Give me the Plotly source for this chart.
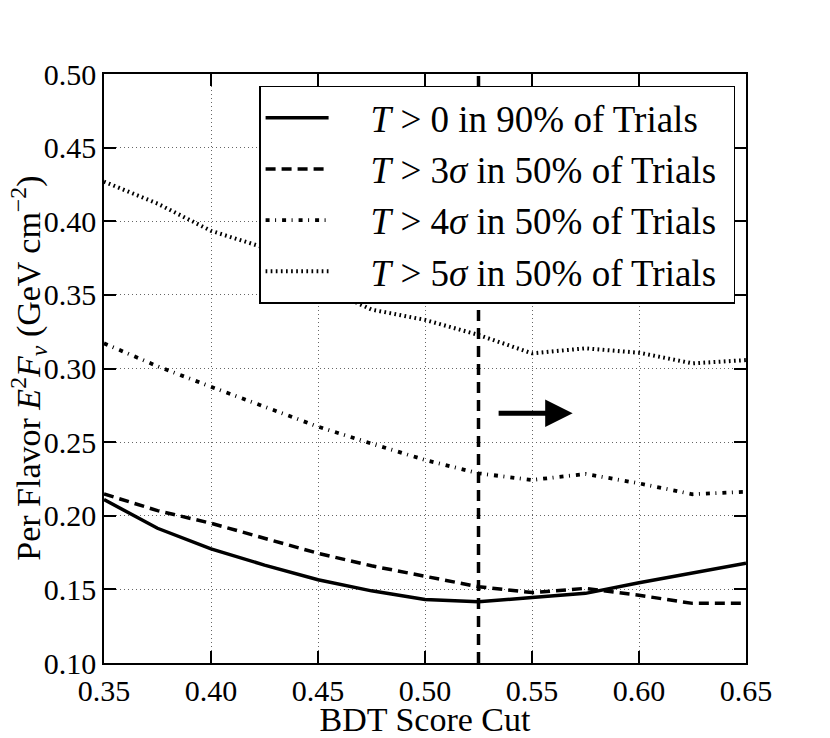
import plotly.graph_objects as go

# ---- data ----
bdt_cut = [0.35, 0.375, 0.40, 0.425, 0.45, 0.475, 0.50, 0.525, 0.55, 0.575, 0.60, 0.625, 0.65]
flux_t0_90 = [0.211, 0.1915, 0.1775, 0.1665, 0.1565, 0.149, 0.1432, 0.1416, 0.1445, 0.1473, 0.1545, 0.161, 0.1677]
flux_3sig_50 = [0.2148, 0.2035, 0.1949, 0.1845, 0.1745, 0.166, 0.1586, 0.1518, 0.1478, 0.1507, 0.146, 0.1405, 0.1405]
flux_4sig_50 = [0.3171, 0.3015, 0.2876, 0.274, 0.2605, 0.249, 0.2379, 0.2288, 0.2243, 0.2284, 0.222, 0.2146, 0.2163]
flux_5sig_50 = [0.4269, 0.412, 0.3935, 0.382, 0.357, 0.340, 0.333, 0.3228, 0.3103, 0.3137, 0.3107, 0.3035, 0.3057]

series_labels = [
    "<i>T</i> &gt; 0 in 90% of Trials",
    "<i>T</i> &gt; 3<i>σ</i> in 50% of Trials",
    "<i>T</i> &gt; 4<i>σ</i> in 50% of Trials",
    "<i>T</i> &gt; 5<i>σ</i> in 50% of Trials",
]

x_ticks = [0.35, 0.40, 0.45, 0.50, 0.55, 0.60, 0.65]
y_ticks = [0.10, 0.15, 0.20, 0.25, 0.30, 0.35, 0.40, 0.45, 0.50]
x_tick_labels = ["0.35", "0.40", "0.45", "0.50", "0.55", "0.60", "0.65"]
y_tick_labels = ["0.10", "0.15", "0.20", "0.25", "0.30", "0.35", "0.40", "0.45", "0.50"]

chosen_cut = 0.525
arrow_start = 0.5337
arrow_end = 0.569
arrow_level = 0.2696

FONT = "Liberation Serif"
LEAD = "&nbsp;&nbsp;&nbsp;&nbsp;"
TRAIL = "&nbsp;&#8202;"

styles = [
    dict(width=3.5, dash="solid"),
    dict(width=3.5, dash="10px,6px"),
    dict(width=3.8, dash="4px,5.5px,1px,6px"),
    dict(width=4.0, dash="1.7px,3.4px"),
]
values = [flux_t0_90, flux_3sig_50, flux_4sig_50, flux_5sig_50]

fig = go.Figure()
for label, vals, st in zip(series_labels, values, styles):
    fig.add_trace(go.Scatter(
        x=bdt_cut, y=vals, mode="lines", name=LEAD + label + TRAIL,
        line=dict(color="black", width=st["width"], dash=st["dash"]),
    ))

fig.add_shape(type="line", xref="x", yref="paper", x0=chosen_cut, x1=chosen_cut, y0=0, y1=1,
              line=dict(color="black", width=3.5, dash="11px,7px"), layer="above")

fig.add_annotation(x=arrow_end, y=arrow_level, ax=arrow_start, ay=arrow_level,
                   xref="x", yref="y", axref="x", ayref="y", text="",
                   showarrow=True, arrowhead=2, arrowsize=1.1, arrowwidth=5, arrowcolor="black")

# y-axis title placed as a rotated annotation for exact positioning
fig.add_annotation(text="Per Flavor <i>E</i><sup>2</sup><i>F</i><sub><i>ν</i></sub> (GeV cm<sup>−2</sup>)",
                   xref="paper", yref="paper", x=-0.118, y=0.5, xanchor="center", yanchor="middle",
                   textangle=-90, showarrow=False, font=dict(family=FONT, size=34, color="black"))

axis_common = dict(
    showgrid=True, gridcolor="#666", gridwidth=1, griddash="1px,3px",
    ticks="inside", ticklen=12, tickwidth=1.5, tickcolor="black",
    showline=True, linecolor="black", linewidth=1.5, mirror="ticks",
    zeroline=False, automargin=False,
    tickfont=dict(family=FONT, size=30, color="black"),
)

# page body adds an 8px offset, so the figure is 8px smaller and margins shifted
fig.update_layout(
    width=822, height=730,
    margin=dict(l=96, r=84, t=66, b=75),
    paper_bgcolor="white", plot_bgcolor="white",
    font=dict(family=FONT, color="black"),
    xaxis=dict(range=[0.35, 0.65], tickvals=x_ticks, ticktext=x_tick_labels,
               title=dict(text="BDT Score Cut", font=dict(family=FONT, size=34)),
               **axis_common),
    yaxis=dict(range=[0.10, 0.50], tickvals=y_ticks, ticktext=y_tick_labels,
               **axis_common),
    legend=dict(x=0.983, xanchor="right", y=0.98, yanchor="top",
                bgcolor="white", bordercolor="black", borderwidth=1.5,
                font=dict(family=FONT, size=37, color="black"),
                itemwidth=63),
    showlegend=True,
)

fig.write_html("out.html")
